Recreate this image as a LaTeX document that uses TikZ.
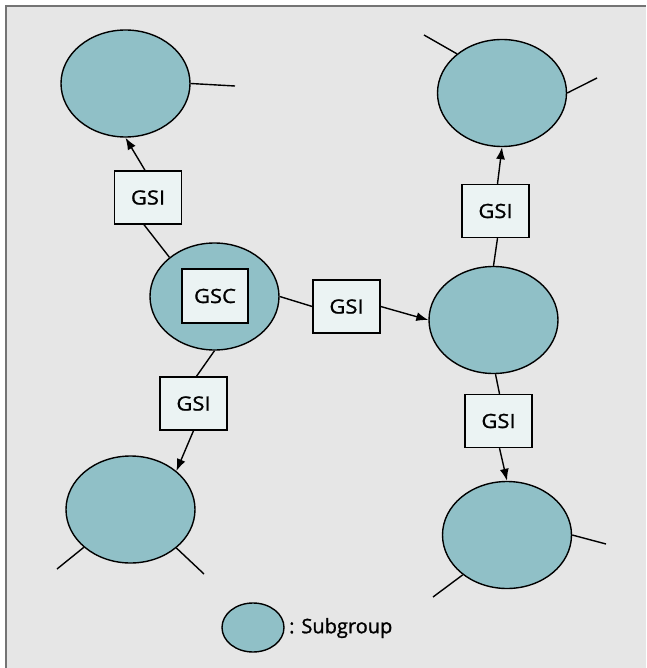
\documentclass[tikz,border=0pt]{standalone}
\usepackage{fontspec}
\setmainfont{Open Sans}
\newfontfamily\labelfont[FakeStretch=1.12,FakeBold=1.2]{Open Sans}
\newfontfamily\keyfont[FakeBold=1.2]{Open Sans}
\usetikzlibrary{shapes.geometric,arrows.meta}
\definecolor{panel}{HTML}{E6E6E6}
\definecolor{frame}{HTML}{747474}
\definecolor{groupfill}{HTML}{90C0C7}
\definecolor{boxfill}{HTML}{EBF3F3}
\tikzset{
  group/.style={ellipse, draw=black, line width=1.4pt, fill=groupfill, inner sep=0pt,
    minimum width=129pt, minimum height=107pt},
  agent/.style={rectangle, draw=black, line width=1.4pt, fill=boxfill, inner sep=0pt,
    minimum width=67pt, minimum height=53pt, font=\labelfont\fontsize{19.6}{22}\selectfont},
  link/.style={line width=1.4pt},
  flow/.style={line width=1.4pt, -{Latex[length=12pt,width=9pt]}},
}
\begin{document}
\begin{tikzpicture}[x=1pt,y=-1pt]
  \useasboundingbox (0,0) rectangle (646,668);
  \fill[white] (0,0) rectangle (646,668);
  \fill[panel] (6,6) rectangle (646,668);
  \draw[frame, line width=2pt] (6,668) -- (6,6) -- (646,6);

  % subgroups
  \node[group] (tl) at (125.5,83.5) {};
  \node[group] (hub) at (214.5,296.5) {};
  \node[group] (mr) at (493.5,320) {};
  \node[group] (tr) at (502,93) {};
  \node[group] (bl) at (130.5,509.5) {};
  \node[group] (br) at (507,535) {};

  % coordinator and interfaces
  \node[agent, minimum width=66pt, minimum height=54pt] (gsc) at (215,296) {GSC};
  \node[agent] (g1) at (148,197.5) {GSI};
  \node[agent] (g2) at (346.5,306.5) {GSI};
  \node[agent] (g3) at (495.5,211) {GSI};
  \node[agent] (g4) at (193.5,403.5) {GSI};
  \node[agent] (g5) at (498.5,421) {GSI};

  % connections
  \draw[link] ([xshift=-4pt]g1.south) -- (hub.139);
  \draw[flow] ([xshift=-3pt]g1.north) -- (tl.south);
  \draw[link] (hub.east) -- (g2.west);
  \draw[flow] (g2.east) -- (mr.west);
  \draw[link] (mr.north) -- ([xshift=2pt]g3.south);
  \draw[flow] ([xshift=2pt]g3.north) -- (tr.south);
  \draw[link] (hub.south) -- ([xshift=3pt]g4.north);
  \draw[flow] (g4.south) -- (bl.40);
  \draw[link] ([xshift=2pt]mr.south) -- ([xshift=1pt]g5.north);
  \draw[flow] ([xshift=1pt]g5.south) -- (br.north);

  % outgoing stubs
  \coordinate (s1) at (235,86);
  \coordinate (s2) at (424,35);
  \coordinate (s3) at (597,78);
  \coordinate (s4) at (57,569);
  \coordinate (s5) at (204,574);
  \coordinate (s6) at (606,544);
  \coordinate (s7) at (433,597);
  \draw[link] (tl.east) -- (s1);
  \draw[link] (tr.139) -- (s2);
  \draw[link] (tr.east) -- (s3);
  \draw[link] (bl.219) -- (s4);
  \draw[link] (bl.320) -- (s5);
  \draw[link] (br.east) -- (s6);
  \draw[link] (br.222) -- (s7);

  % legend
  \node[group, minimum width=62pt, minimum height=49pt] (key) at (253,627.5) {};
  \node[anchor=west, inner sep=0pt, font=\keyfont\fontsize{20}{22}\selectfont] (keytext) at (289,628) {: Subgroup};
\end{tikzpicture}
\end{document}
